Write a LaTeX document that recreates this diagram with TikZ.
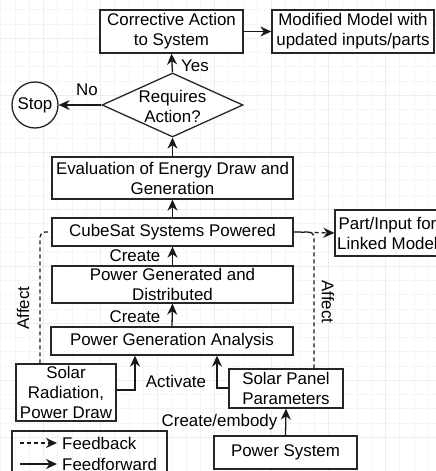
\documentclass[tikz,border=0pt]{standalone}
\usepackage{fontspec}
\setmainfont{Liberation Sans}
\usetikzlibrary{arrows.meta,shapes.geometric}
\begin{document}
\begin{tikzpicture}[x=1pt,y=-1pt,
  every node/.style={font=\fontsize{16.9}{20}\selectfont, text=black},
  box/.style={draw=black!85, line width=1.3pt, rectangle, align=center, inner sep=0pt, fill=white},
  lbl/.style={inner sep=0pt},
  conn/.style={draw=black!90, line width=1.3pt},
  arr/.style={conn, -{Stealth[length=11pt,width=10pt,inset=3.5pt]}},
  fb/.style={conn, dash pattern=on 4pt off 3pt},
  fbarr/.style={fb, -{Stealth[length=11pt,width=10pt,inset=3.5pt]}}]
\useasboundingbox (0,0) rectangle (436,471);
\clip (0,0) rectangle (436,471);
% faint grid
\foreach \i in {0,...,31} {
  \draw[black!4, line width=0.6pt] (0.7+14.25*\i,0) -- (0.7+14.25*\i,471);
  \draw[black!4, line width=0.6pt] (0,-4.7+14.25*\i) -- (436,-4.7+14.25*\i);
}
\foreach \i in {0,...,8} {
  \draw[black!7, line width=0.8pt] (-14+57*\i,0) -- (-14+57*\i,471);
  \draw[black!7, line width=0.8pt] (0,-19+57*\i) -- (436,-19+57*\i);
}
% nodes
\node[box, minimum width=143pt, minimum height=43pt] (corr) at (171.5,31.5) {Corrective Action\\to System};
\node[box, minimum width=162pt, minimum height=43pt] (mod) at (353,31.5) {Modified Model with\\updated inputs/parts};
\node[box, diamond, aspect=2.2, minimum width=141pt, minimum height=64pt] (dec) at (172.5,105) {};
\node[lbl, align=center] (dect) at (172.5,106) {Requires\\Action?};
\node[box, circle, minimum size=46pt] (stop) at (35,105) {Stop};
\node[box, minimum width=241pt, minimum height=42pt] (eval) at (172.5,178) {Evaluation of Energy Draw and\\Generation};
\node[box, minimum width=241pt, minimum height=28pt] (cube) at (172.5,232) {CubeSat Systems Powered};
\node[box, minimum width=241pt, minimum height=37pt] (pgd) at (172.5,284.5) {Power Generated and\\Distributed};
\node[box, minimum width=242pt, minimum height=28pt] (pga) at (172,341) {Power Generation Analysis};
\node[box, minimum width=105pt, minimum height=46pt] (part) at (387.5,233) {Part/Input for\\Linked Model};
\node[box, minimum width=100pt, minimum height=57pt] (srad) at (66,392.5) {Solar\\Radiation,\\Power Draw};
\node[box, minimum width=114pt, minimum height=39pt] (spp) at (286,388.5) {Solar Panel\\Parameters};
\node[box, minimum width=143pt, minimum height=33pt] (psys) at (285.5,452.5) {Power System};
% connectors
\draw[arr] (corr.east) -- (mod.west);
\draw[arr] (dec.north) -- (corr.south);
\draw[arr] (dec.west) -- (stop.east);
\draw[arr] (eval.north) -- (dec.south);
\draw[arr] (cube.north) -- (eval.south);
\draw[arr] (pgd.north) -- (cube.south);
\draw[arr] (pga.north) -- (pgd.south);
\draw[arr] (srad.east |- 0,390) -| (pga.south -| 135,0);
\draw[arr] (spp.west |- 0,388) -| (pga.south -| 217,0);
\draw[arr] (psys.north) -- (spp.south);
\draw[fbarr] (cube.east) -- (part.west);
\draw[fb, rounded corners=5pt] (spp.north -| 314,0) |- (cube.east);
\draw[fb, rounded corners=5pt] (srad.north -| 40,0) |- (cube.west);
% labels
\node[lbl] (yes) at (195,66) {Yes};
\node[lbl] (no) at (87,90) {No};
\node[lbl] (cr1) at (135,256) {Create};
\node[lbl] (cr2) at (135,317) {Create};
\node[lbl] (act) at (176,381) {Activate};
\node[lbl] (emb) at (219.5,422) {Create/embody};
\node[lbl, rotate=90] (aff1) at (23,308) {Affect};
\node[lbl, rotate=-90] (aff2) at (328,302) {Affect};
% legend
\node[draw=black!85, line width=1.3pt, minimum width=155pt, minimum height=50pt, inner sep=0pt] (leg) at (89.5,456) {};
\coordinate (l1a) at (20,443);
\coordinate (l1b) at (57,443);
\coordinate (l2a) at (20,464);
\coordinate (l2b) at (57,464);
\draw[fbarr] (l1a) -- (l1b);
\draw[arr] (l2a) -- (l2b);
\node[lbl, anchor=west] (lfb) at (62,443) {Feedback};
\node[lbl, anchor=west] (lff) at (62,464) {Feedforward};
\end{tikzpicture}
\end{document}
